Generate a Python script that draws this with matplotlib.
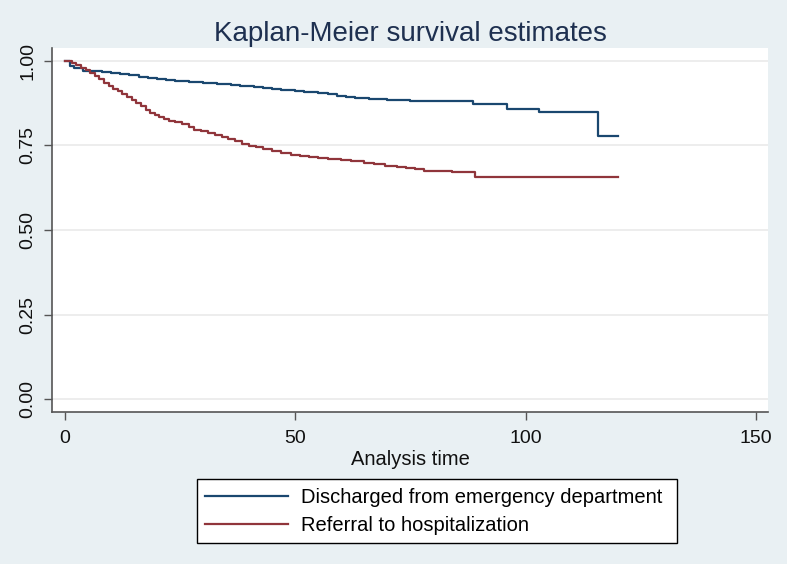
import matplotlib
matplotlib.use("Agg")
import matplotlib.pyplot as plt

# Kaplan-Meier step data (time, survival)
disch_t = [0, 1, 2, 4, 6, 8, 10, 12, 14, 16, 18, 20, 22, 24, 27, 30, 33, 36, 38,
           41, 43, 45, 47, 50, 52, 55, 57, 59, 61, 63, 66, 70, 75, 80, 88.6, 96,
           103, 115.7, 120]
disch_s = [1.0, 0.985, 0.978, 0.971, 0.969, 0.966, 0.963, 0.960, 0.957, 0.953,
           0.950, 0.947, 0.944, 0.941, 0.937, 0.934, 0.931, 0.929, 0.927, 0.923,
           0.919, 0.916, 0.913, 0.911, 0.908, 0.905, 0.902, 0.897, 0.894, 0.891,
           0.886, 0.884, 0.881, 0.880, 0.872, 0.858, 0.848, 0.778, 0.778]

refer_t = [0, 1.5, 2.5, 3.5, 4.5, 5.5, 6.5, 7.5, 8.5, 9.5, 10.5, 11.5, 12.5, 13.5,
           14.5, 15.5, 16.5, 17.5, 18.5, 19.5, 20.5, 21.5, 22.5, 24, 25.5, 27, 28,
           29.5, 31, 32.5, 34, 35.5, 37, 38.5, 40, 41.5, 43, 45, 47, 49, 51, 53,
           55, 57, 60, 62, 65, 67, 69.5, 72, 74, 76, 78, 84, 89, 120]
refer_s = [1.0, 0.994, 0.988, 0.980, 0.972, 0.964, 0.955, 0.945, 0.936, 0.925,
           0.916, 0.910, 0.903, 0.893, 0.885, 0.875, 0.866, 0.856, 0.847, 0.840,
           0.833, 0.827, 0.822, 0.818, 0.813, 0.805, 0.797, 0.792, 0.786, 0.780,
           0.775, 0.768, 0.762, 0.755, 0.749, 0.744, 0.739, 0.733, 0.727, 0.722,
           0.719, 0.716, 0.713, 0.710, 0.707, 0.704, 0.699, 0.695, 0.690, 0.686,
           0.683, 0.679, 0.675, 0.670, 0.658, 0.658]

labels = ["Discharged from emergency department", "Referral to hospitalization"]
xticks = [0, 50, 100, 150]
yticks = [0.0, 0.25, 0.5, 0.75, 1.0]

plt.rcParams['font.family'] = ['Liberation Sans', 'DejaVu Sans']
bg = "#e9f0f3"
blue = "#1a476f"
red = "#90353b"

fig = plt.figure(figsize=(7.87, 5.64), dpi=100, facecolor=bg)
ax = fig.add_axes([52 / 787, 1 - 412 / 564, (768 - 52) / 787, (412 - 48) / 564])
ax.set_facecolor("white")

ax.step(disch_t, disch_s, where="post", color=blue, lw=1.6, label=labels[0])
ax.step(refer_t, refer_s, where="post", color=red, lw=1.6, label=labels[1])

ax.set_xlim(-2.8, 152.6)
ax.set_ylim(-0.038, 1.038)
ax.set_xticks(xticks)
ax.set_yticks(yticks)
ax.set_yticklabels([f"{v:.2f}" for v in yticks], rotation=90, va="center")
ax.tick_params(axis="both", labelsize=14, length=6, width=1, color="#555555",
               labelcolor="#111111")
ax.tick_params(axis="x", pad=7)
ax.tick_params(axis="y", pad=5)
ax.grid(axis="y", color="#eaeaea", lw=1.2)
ax.set_axisbelow(True)

for s in ["top", "right"]:
    ax.spines[s].set_visible(False)
for s in ["left", "bottom"]:
    ax.spines[s].set_color("#555555")
    ax.spines[s].set_linewidth(1.2)

ax.set_title("Kaplan-Meier survival estimates", fontsize=20, color="#1e3050", pad=5)
ax.set_xlabel("Analysis time", fontsize=14.5, color="#111111", labelpad=2)

leg = fig.legend(loc="lower left", bbox_to_anchor=(0.25, 0.037, 0.61, 0.117),
                 bbox_transform=fig.transFigure, mode="expand", fontsize=14.5,
                 frameon=True, fancybox=False, framealpha=1, edgecolor="black",
                 handlelength=4.1, handletextpad=0.65, labelspacing=0.45,
                 borderpad=0.42, borderaxespad=0)
leg.get_frame().set_linewidth(1)

fig.savefig("out.png", dpi=100, facecolor=bg)
